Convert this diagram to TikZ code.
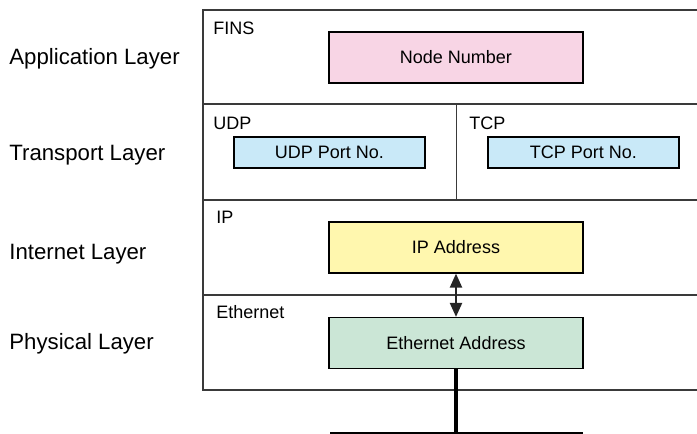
\documentclass[tikz,border=0pt]{standalone}
\usepackage{fontspec}
\setmainfont{Liberation Sans}
\usetikzlibrary{arrows.meta}

\definecolor{finspink}{HTML}{F8D5E5}
\definecolor{portblue}{HTML}{C9E9F8}
\definecolor{ipyellow}{HTML}{FFF7AE}
\definecolor{ethgreen}{HTML}{CBE6D6}
\definecolor{layergray}{HTML}{3A3A3A}

\tikzset{
  addrbox/.style={draw=black, line width=0.6pt, inner sep=0pt,
    minimum width=127pt, minimum height=25.5pt,
    font=\fontsize{9}{10}\selectfont},
  portbox/.style={addrbox, minimum width=95.5pt, minimum height=15.5pt},
  protolabel/.style={anchor=base west, inner sep=0pt, font=\fontsize{9}{10}\selectfont},
  layerlabel/.style={anchor=base west, inner sep=0pt, font=\fontsize{11.1}{12}\selectfont},
  layerline/.style={draw=layergray, line width=0.9pt}
}

\begin{document}
\begin{tikzpicture}[x=0.5pt, y=-0.5pt]
	\useasboundingbox (0, 0) rectangle (697, 434);
	% layer frame
	\draw [layerline] (697, 10) -- (203, 10) -- (203, 390) -- (697, 390);
	\draw [layerline] (203, 104) -- (697, 104);
	\draw [layerline] (203, 200) -- (697, 200);
	\draw [layerline] (203, 295) -- (697, 295);
	\draw [layerline] (456.5, 104) -- (456.5, 200);
	% layer names
	\node [layerlabel] (applayer) at (9, 64) {Application Layer};
	\node [layerlabel] (translayer) at (9, 160) {Transport Layer};
	\node [layerlabel] (netlayer) at (9, 259) {Internet Layer};
	\node [layerlabel] (physlayer) at (9, 349) {Physical Layer};
	% protocols
	\node [protolabel] (fins) at (213, 34) {FINS};
	\node [protolabel] (udp) at (213, 129) {UDP};
	\node [protolabel] (tcp) at (469, 129) {TCP};
	\node [protolabel] (ip) at (216, 223) {IP};
	\node [protolabel] (eth) at (216, 318) {Ethernet};
	% addresses
	\node [addrbox, fill=finspink] (nodenum) at (456, 57.5) {Node Number};
	\node [portbox, fill=portblue] (udpport) at (329.5, 152.5) {UDP Port No.};
	\node [portbox, fill=portblue] (tcpport) at (583.5, 152.5) {TCP Port No.};
	\node [addrbox, fill=ipyellow] (ipaddr) at (456, 247.5) {IP Address};
	\node [addrbox, fill=ethgreen] (ethaddr) at (456, 343) {Ethernet Address};
	\draw [{Triangle[length=7pt, width=6pt]}-{Triangle[length=7pt, width=6pt]}, line width=1.1pt, draw=black!85, fill=black!85] (ipaddr) -- (ethaddr);
	% cable
	\coordinate (tap) at (456, 433);
	\draw [line width=1.7pt] (ethaddr.south) -- (tap);
	\draw [line width=0.9pt] (330, 433) -- (583, 433);
\end{tikzpicture}
\end{document}
